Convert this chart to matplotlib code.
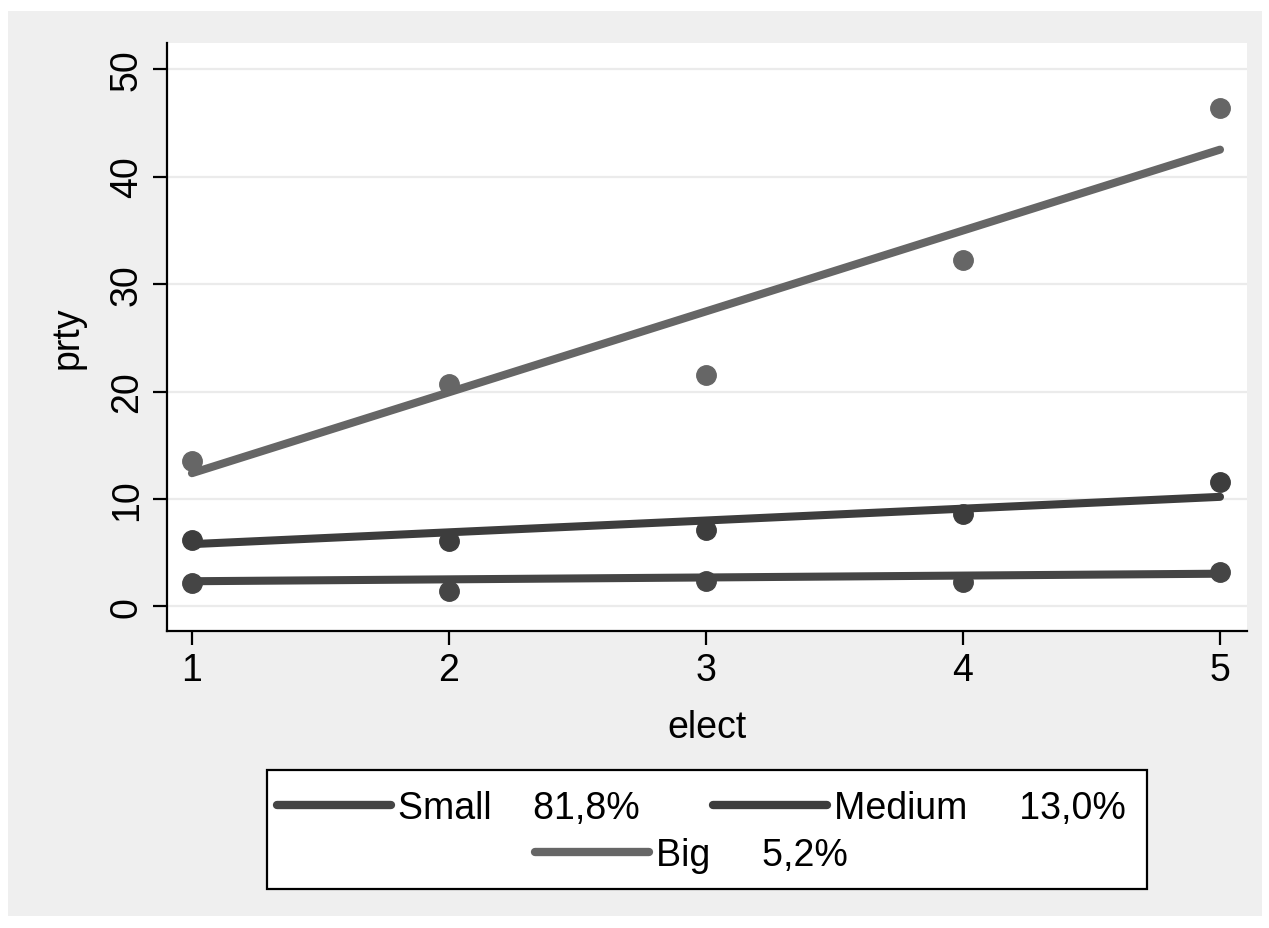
import matplotlib
matplotlib.use("Agg")
import matplotlib.pyplot as plt
from matplotlib.patches import Rectangle

# Datos
elect = [1, 2, 3, 4, 5]
small = [2.2, 1.4, 2.4, 2.3, 3.2]
medium = [6.2, 6.1, 7.1, 8.6, 11.6]
big = [13.5, 20.7, 21.5, 32.2, 46.4]

fit_x = [1, 5]
small_fit = [2.35, 3.05]
medium_fit = [5.8, 10.2]
big_fit = [12.4, 42.5]

labels = ["Small    81,8%", "Medium     13,0%", "Big     5,2%"]
yticks = [0, 10, 20, 30, 40, 50]

c_small, c_medium, c_big = "#454545", "#3d3d3d", "#666666"
W, H = 1269, 929

plt.rcParams['font.family'] = ['Liberation Sans', 'DejaVu Sans']
plt.rcParams['font.size'] = 27

fig = plt.figure(figsize=(W / 100, H / 100), dpi=100, facecolor="white")
# panel gris exterior (estilo Stata)
fig.patches.append(Rectangle((8 / W, 1 - 917 / H), (1262 - 8) / W, (917 - 12) / H,
                             transform=fig.transFigure, facecolor="#efefef",
                             edgecolor="none", zorder=-5))

ax = fig.add_axes([167 / W, 1 - 632 / H, (1247 - 167) / W, (632 - 44) / H])
ax.set_facecolor("white")
ax.set_zorder(2)

for yv, fv, col in [(small, small_fit, c_small), (medium, medium_fit, c_medium), (big, big_fit, c_big)]:
    ax.plot(elect, yv, 'o', color=col, markersize=14, zorder=3)
    ax.plot(fit_x, fv, color=col, linewidth=5.8, solid_capstyle='round', zorder=4)

ax.set_xlim(0.903, 5.105)
ax.set_ylim(-2.28, 52.42)
ax.set_xticks(elect)
ax.set_yticks(yticks)
ax.yaxis.grid(True, color="#ebebeb", linewidth=1.6, zorder=0)
ax.set_axisbelow(True)

for s in ["top", "right"]:
    ax.spines[s].set_visible(False)
for s in ["left", "bottom"]:
    ax.spines[s].set_linewidth(1.6)
ax.tick_params(direction='out', length=10, width=1.6, labelsize=27)
ax.tick_params(axis='x', pad=5)
ax.tick_params(axis='y', pad=6)
for t in ax.get_yticklabels():
    t.set_rotation(90)
    t.set_va('center')

ax.set_xlabel("elect", fontsize=27)
ax.set_ylabel("prty", fontsize=27)
ax.xaxis.set_label_coords(0.5, -0.133)
ax.yaxis.set_label_coords(-0.075, 0.5)

# leyenda: primera fila con dos entradas, segunda centrada
h1 = plt.Line2D([], [], color=c_small, linewidth=6, solid_capstyle='round')
h2 = plt.Line2D([], [], color=c_medium, linewidth=6, solid_capstyle='round')
h3 = plt.Line2D([], [], color=c_big, linewidth=6, solid_capstyle='round')
kw = dict(frameon=False, fontsize=27, handlelength=3.05, handletextpad=0.18,
          columnspacing=1.95, borderpad=0, borderaxespad=0, loc='center')
leg1 = fig.legend([h1, h2], labels[:2], ncol=2, bbox_to_anchor=(701 / W, 1 - 809 / H), **kw)
leg2 = fig.legend([h3], labels[2:], bbox_to_anchor=(691 / W, 1 - 856 / H), **kw)
fig.patches.append(Rectangle((267 / W, 1 - 890 / H), (1147 - 267) / W, (890 - 771) / H,
                             transform=fig.transFigure, facecolor="white",
                             edgecolor="black", linewidth=1.6, zorder=1))

fig.savefig("out.png", dpi=100, facecolor=fig.get_facecolor())
